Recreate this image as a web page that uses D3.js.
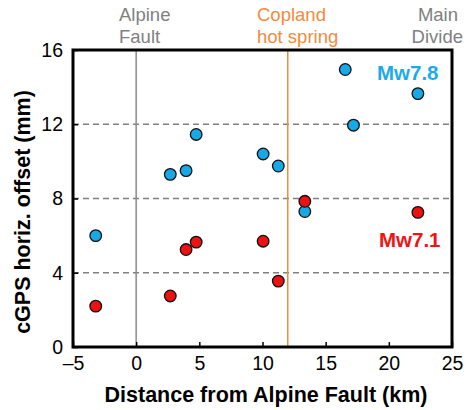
<!DOCTYPE html>
<html><head><meta charset="utf-8">
<script src="https://cdn.jsdelivr.net/npm/d3@7"></script>
<style>body{margin:0;background:#fff;} svg{display:block;font-family:"Liberation Sans",Arial,sans-serif;}</style>
</head><body>
<svg id="c" width="467" height="410"></svg>
<script>
const mw78Dist = [-3.2, 2.7, 3.95, 4.75, 10.05, 11.25, 16.55, 22.3, 17.2, 13.35];
const mw78Offset = [6.0, 9.3, 9.5, 11.45, 10.4, 9.75, 14.95, 13.65, 11.95, 7.3];
const mw71Dist = [-3.2, 2.7, 3.95, 4.75, 10.05, 11.25, 13.35, 22.3];
const mw71Offset = [2.2, 2.75, 5.25, 5.65, 5.7, 3.55, 7.85, 7.25];
const xTicks = [-5, 0, 5, 10, 15, 20, 25];
const yTicks = [0, 4, 8, 12, 16];
const gridLevels = [4, 8, 12];
const alpineFaultX = 0;
const coplandX = 12;

const svg = d3.select("#c");
const m = {l:73, r:452, t:50, b:347};
const x = d3.scaleLinear().domain([-5,25]).range([m.l, m.r]);
const y = d3.scaleLinear().domain([0,16]).range([m.b, m.t]);

// gridlines
svg.append("g").selectAll("line").data(gridLevels).join("line")
  .attr("x1", m.l).attr("x2", m.r).attr("y1", d=>y(d)).attr("y2", d=>y(d))
  .attr("stroke", "#808080").attr("stroke-width", 1.5).attr("stroke-dasharray", "6,4");

// vertical reference lines
svg.append("line").attr("x1", x(alpineFaultX)).attr("x2", x(alpineFaultX)).attr("y1", m.t).attr("y2", m.b)
  .attr("stroke", "#8a8a8a").attr("stroke-width", 1.5);
svg.append("line").attr("x1", x(coplandX)).attr("x2", x(coplandX)).attr("y1", m.t).attr("y2", m.b)
  .attr("stroke", "#f58a3c").attr("stroke-width", 1.5);

// axes (ticks inward)
const xAxis = d3.axisBottom(x).tickValues(xTicks).tickSizeInner(-5).tickSizeOuter(0).tickPadding(9)
  .tickFormat(d => d < 0 ? "\u2013" + Math.abs(d) : d);
const gx = svg.append("g").attr("transform", `translate(0,${m.b})`).call(xAxis);
gx.select(".domain").remove();
gx.selectAll("line").attr("stroke", "#000").attr("stroke-width", 1.5);
gx.selectAll("text").attr("font-size", 19.5).attr("fill", "#000").attr("font-family", "Liberation Sans, Arial, sans-serif");

const yAxis = d3.axisLeft(y).tickValues(yTicks).tickSizeInner(-5).tickSizeOuter(0).tickPadding(10);
const gy = svg.append("g").attr("transform", `translate(${m.l},0)`).call(yAxis);
gy.select(".domain").remove();
gy.selectAll("line").attr("stroke", "#000").attr("stroke-width", 1.5);
gy.selectAll("text").attr("font-size", 19.5).attr("fill", "#000").attr("font-family", "Liberation Sans, Arial, sans-serif");

// frame
svg.append("rect").attr("x", m.l).attr("y", m.t).attr("width", m.r-m.l).attr("height", m.b-m.t)
  .attr("fill", "none").attr("stroke", "#000").attr("stroke-width", 3);

// points
const blue = "#16a9e6", red = "#ec1212";
const d78 = mw78Dist.map((d,i)=>({x:d, y:mw78Offset[i]}));
const d71 = mw71Dist.map((d,i)=>({x:d, y:mw71Offset[i]}));
svg.append("g").selectAll("circle").data(d78).join("circle")
  .attr("cx", d=>x(d.x)).attr("cy", d=>y(d.y)).attr("r", 5.8)
  .attr("fill", blue).attr("stroke", "#111").attr("stroke-width", 1.3);
svg.append("g").selectAll("circle").data(d71).join("circle")
  .attr("cx", d=>x(d.x)).attr("cy", d=>y(d.y)).attr("r", 5.8)
  .attr("fill", red).attr("stroke", "#111").attr("stroke-width", 1.3);

// series labels
svg.append("text").attr("x", 377).attr("y", 80).attr("font-size", 20.5).attr("font-weight", "bold")
  .attr("fill", "#1aabec").text("Mw7.8");
svg.append("text").attr("x", 379).attr("y", 247).attr("font-size", 20.5).attr("font-weight", "bold")
  .attr("fill", "#f01414").text("Mw7.1");

// top annotations
const ann = svg.append("g").attr("font-size", 18.5);
ann.append("text").attr("x", 119).attr("y", 21).attr("fill", "#808080").text("Alpine");
ann.append("text").attr("x", 119).attr("y", 43).attr("fill", "#808080").text("Fault");
ann.append("text").attr("x", 257).attr("y", 21).attr("fill", "#f58a3c").text("Copland");
ann.append("text").attr("x", 257).attr("y", 43).attr("fill", "#f58a3c").text("hot spring");
ann.append("text").attr("x", 458).attr("y", 21).attr("text-anchor", "end").attr("fill", "#808080").text("Main");
ann.append("text").attr("x", 463).attr("y", 43).attr("text-anchor", "end").attr("fill", "#808080").text("Divide");

// axis titles
svg.append("text").attr("x", 266).attr("y", 402).attr("text-anchor", "middle")
  .attr("font-size", 21.5).attr("font-weight", "bold").text("Distance from Alpine Fault (km)");
svg.append("text").attr("transform", "translate(30,212) rotate(-90)").attr("text-anchor", "middle")
  .attr("font-size", 21.5).attr("font-weight", "bold").text("cGPS horiz. offset (mm)");
</script>
</body></html>
